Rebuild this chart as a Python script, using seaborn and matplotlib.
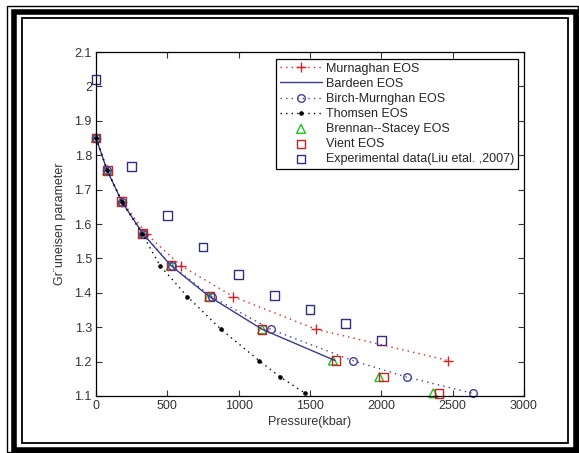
import numpy as np
import pandas as pd
import matplotlib
matplotlib.use('Agg')
import matplotlib.pyplot as plt
import seaborn as sns
from matplotlib.patches import Rectangle

# Gruneisen parameter values shared by the EOS curves
gamma = [1.85, 1.756, 1.665, 1.572, 1.479, 1.389, 1.294, 1.203, 1.155, 1.108]

p_murnaghan = [0, 80, 185, 350, 595, 962, 1542, 2470]
p_bardeen = [0, 78, 181, 328, 525, 794, 1164, 1676]
p_birch = [0, 78, 181, 330, 530, 810, 1224, 1799, 2177, 2640]
p_thomsen = [0, 78, 181, 323, 449, 640, 876, 1143, 1292, 1467]
p_brennan = [0, 78, 181, 328, 525, 794, 1164, 1661, 1986, 2364]
p_vient = [0, 78, 181, 328, 525, 794, 1164, 1682, 2014, 2404]

p_exp = [0, 250, 500, 750, 1000, 1250, 1500, 1750, 2000]
g_exp = [2.02, 1.767, 1.625, 1.533, 1.454, 1.392, 1.352, 1.311, 1.261]

x_ticks = [0, 500, 1000, 1500, 2000, 2500, 3000]
y_ticks = [1.1, 1.2, 1.3, 1.4, 1.5, 1.6, 1.7, 1.8, 1.9, 2.0, 2.1]
y_ticklabels = ['1.1', '1.2', '1.3', '1.4', '1.5', '1.6', '1.7', '1.8', '1.9', '2', '2.1']

sns.set_style('ticks')
plt.rcParams['font.family'] = ['Liberation Sans', 'DejaVu Sans']
plt.rcParams['xtick.direction'] = 'in'
plt.rcParams['ytick.direction'] = 'in'

W, H = 579, 453
fig = plt.figure(figsize=(W / 100, H / 100), dpi=100)
ax = fig.add_axes([96 / W, 1 - 396 / H, 428 / W, 344 / H])

navy = '#303080'
red = '#e02020'
dotted = (0, (1, 3))

sns.lineplot(x=p_murnaghan, y=gamma[:len(p_murnaghan)], ax=ax, color=red, linestyle=dotted,
             linewidth=1, marker='+', markersize=7, markeredgecolor=red, markeredgewidth=1,
             label='Murnaghan EOS', clip_on=False)
sns.lineplot(x=p_bardeen, y=gamma[:len(p_bardeen)], ax=ax, color='#3a3a90', linestyle='-',
             linewidth=1, label='Bardeen EOS')
sns.lineplot(x=p_birch, y=gamma, ax=ax, color='#4040a0', linestyle=dotted, linewidth=1,
             marker='o', markersize=5.5, markerfacecolor='none', markeredgecolor='#4040a0',
             markeredgewidth=1, label='Birch-Murnghan EOS', clip_on=False)
sns.lineplot(x=p_thomsen, y=gamma, ax=ax, color='black', linestyle=dotted, linewidth=1,
             marker='.', markersize=5, markeredgecolor='black', markerfacecolor='black',
             label='Thomsen EOS', clip_on=False)
sns.scatterplot(x=p_brennan, y=gamma, ax=ax, marker='^', s=40, facecolor='none',
                edgecolor='#20c020', linewidth=1, label='Brennan--Stacey EOS', clip_on=False)
sns.scatterplot(x=p_vient, y=gamma, ax=ax, marker='s', s=40, facecolor='none',
                edgecolor='#d02020', linewidth=1, label='Vient EOS', clip_on=False)
sns.scatterplot(x=p_exp, y=g_exp, ax=ax, marker='s', s=40, facecolor='none',
                edgecolor=navy, linewidth=1, label='Experimental data(Liu etal. ,2007)',
                clip_on=False)

ax.set_xlim(0, 3000)
ax.set_ylim(1.1, 2.1)
ax.set_xticks(x_ticks)
ax.set_yticks(y_ticks)
ax.set_yticklabels(y_ticklabels)
ax.tick_params(axis='both', labelsize=9, length=4, width=0.8, colors='#333333',
               top=True, right=True, pad=3)
for side in ax.spines.values():
    side.set_color('black')
    side.set_linewidth(0.9)

ax.set_xlabel('Pressure(kbar)', fontsize=9, color='#333333', labelpad=3)
ax.set_ylabel('Gr\u00a8uneisen parameter', fontsize=9, color='#333333', labelpad=6)

leg = ax.legend(loc='upper right', bbox_to_anchor=(0.986, 0.98), borderaxespad=0,
                fontsize=9, frameon=True, fancybox=False, framealpha=1,
                edgecolor='black', handlelength=3.4, handletextpad=0.3,
                labelspacing=0.25, borderpad=0.3)
leg.get_frame().set_linewidth(0.9)
leg.set_zorder(5)


def frame(x0, y0, x1, y1, lw):
    # pixel box (top-left origin) -> figure rectangle
    fig.patches.append(Rectangle((x0 / W, 1 - y1 / H), (x1 - x0) / W, (y1 - y0) / H,
                                 transform=fig.transFigure, fill=False,
                                 edgecolor='black', linewidth=lw))


frame(7.5, 6, 578, 452, 1)
frame(13.5, 11.5, 576, 450, 4)
frame(22, 18, 568, 443, 1.3)

fig.savefig('out.png', dpi=100)
plt.close()
